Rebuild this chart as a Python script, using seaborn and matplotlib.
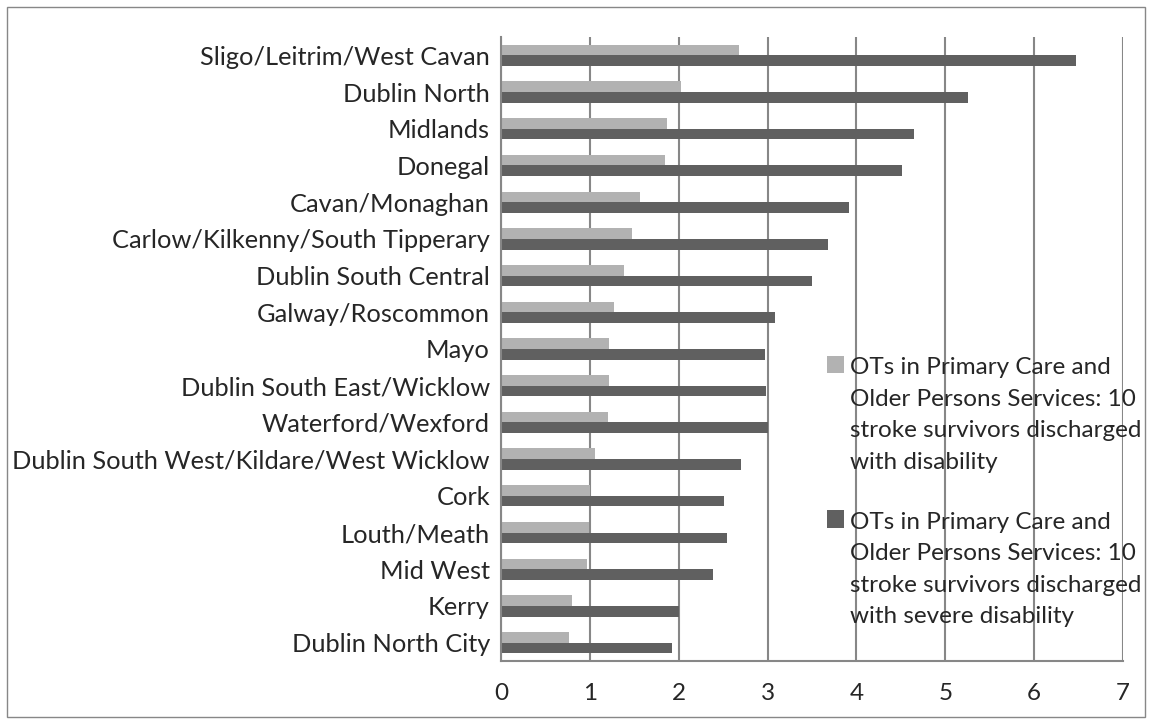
import matplotlib
matplotlib.use("Agg")
import matplotlib.pyplot as plt
import pandas as pd
import seaborn as sns
from matplotlib.patches import Rectangle
from matplotlib.legend_handler import HandlerPatch

# Data
regions = ["Sligo/Leitrim/West Cavan", "Dublin North", "Midlands", "Donegal",
           "Cavan/Monaghan", "Carlow/Kilkenny/South Tipperary", "Dublin South Central",
           "Galway/Roscommon", "Mayo", "Dublin South East/Wicklow", "Waterford/Wexford",
           "Dublin South West/Kildare/West Wicklow", "Cork", "Louth/Meath", "Mid West",
           "Kerry", "Dublin North City"]
disability = [2.68, 2.03, 1.87, 1.85, 1.56, 1.47, 1.38, 1.27, 1.22, 1.21, 1.20,
              1.06, 1.00, 0.99, 0.97, 0.80, 0.76]
severe_disability = [6.47, 5.26, 4.65, 4.51, 3.92, 3.68, 3.50, 3.08, 2.97, 2.98, 3.01,
                     2.70, 2.51, 2.54, 2.39, 2.00, 1.93]
series_names = ["OTs in Primary Care and\nOlder Persons Services: 10\nstroke survivors discharged\nwith disability",
                "OTs in Primary Care and\nOlder Persons Services: 10\nstroke survivors discharged\nwith severe disability"]
x_ticks = [0, 1, 2, 3, 4, 5, 6, 7]

df = pd.concat([
    pd.DataFrame({"region": regions, "value": disability, "series": series_names[0]}),
    pd.DataFrame({"region": regions, "value": severe_disability, "series": series_names[1]}),
])

sns.set_style("white")
plt.rcParams["font.family"] = ["Lato", "DejaVu Sans"]

fig = plt.figure(figsize=(11.52, 7.24), dpi=100)
ax = fig.add_axes([501 / 1152, 1 - 661 / 724, 622 / 1152, 624 / 724])

sns.barplot(data=df, y="region", x="value", hue="series", order=regions,
            hue_order=series_names, palette=["#b2b2b2", "#606060"],
            width=0.58, saturation=1, linewidth=0, ax=ax)

ax.set_xlim(0, 7)
ax.set_ylim(len(regions) - 0.5, -0.5)
ax.set_xticks(x_ticks)
ax.set_xlabel("")
ax.set_ylabel("")
ax.xaxis.grid(True, color="#878787", linewidth=1.5)
ax.set_axisbelow(True)
for side in ["top", "right"]:
    ax.spines[side].set_visible(False)
for side in ["left", "bottom"]:
    ax.spines[side].set_color("#878787")
    ax.spines[side].set_linewidth(1.5)
ax.set_yticks([i - 0.5 for i in range(len(regions) + 1)], minor=True)
ax.tick_params(axis="y", which="major", length=0, labelsize=18.3, pad=8)
ax.tick_params(axis="y", which="minor", length=6, width=1.5, color="#878787", direction="out")
ax.tick_params(axis="x", length=6, width=1.5, color="#878787", direction="out",
               labelsize=17.5, pad=10)


# square legend key aligned with the first line of its (multi-line) label
def top_square(legend, orig_handle, xdescent, ydescent, width, height, fontsize):
    shift = 1.5 * 1.38 * fontsize
    return Rectangle((-xdescent, -ydescent + shift), width, height)


leg = ax.legend(loc="upper left", bbox_to_anchor=(827 / 1152, 1 - 357 / 724),
                bbox_transform=fig.transFigure, frameon=False, fontsize=17.5,
                handlelength=0.7, handleheight=0.7, handletextpad=0.25,
                labelspacing=1.6, borderaxespad=0, borderpad=0,
                handler_map={Rectangle: HandlerPatch(patch_func=top_square)})
for t in leg.get_texts():
    t.set_linespacing(1.62)

fig.patches.append(Rectangle((7 / 1152, 7 / 724), 1138 / 1152, 710 / 724,
                             transform=fig.transFigure, fill=False,
                             edgecolor="#878787", linewidth=1))

fig.savefig("out.png", dpi=100)
